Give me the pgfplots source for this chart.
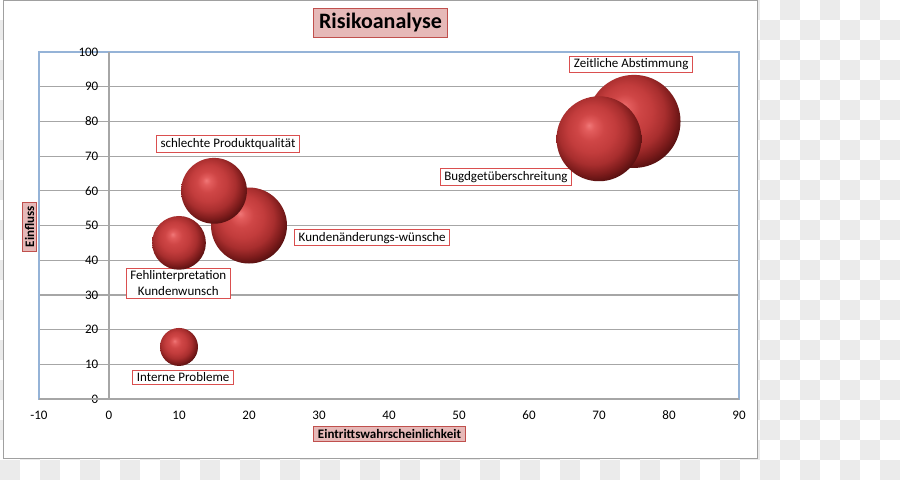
\documentclass[border=0pt]{standalone}
\usepackage{fontspec}
\setmainfont{Carlito}
\usepackage{pgfplots}
\pgfplotsset{compat=1.18}
\usepackage{pgfplotstable}
\definecolor{gridgray}{HTML}{A6A6A6}
\definecolor{plotblue}{HTML}{95B3D7}
\definecolor{titlefill}{HTML}{E6B9B8}
\definecolor{titledraw}{HTML}{C0504D}
\definecolor{labeldraw}{HTML}{DA4F4F}
\definecolor{checker}{HTML}{EBEBEB}
\definecolor{framegray}{HTML}{A0A0A0}
\definecolor{bhl}{HTML}{F07878}
\definecolor{ba}{HTML}{E25C5C}
\definecolor{bb}{HTML}{CF4646}
\definecolor{bc}{HTML}{C23C3C}
\definecolor{bd}{HTML}{A82E2E}
\definecolor{be}{HTML}{7E1C1C}
\definecolor{bf}{HTML}{561010}
\definecolor{bg}{HTML}{420A0A}
\pgfdeclareradialshading{redballshade}{\pgfpoint{-6bp}{8bp}}{%
  color(0bp)=(bhl); color(3bp)=(ba); color(8bp)=(bb); color(14bp)=(bc);
  color(20bp)=(bd); color(25bp)=(be); color(29bp)=(bf); color(34bp)=(bg); color(50bp)=(bg)}
\pgfdeclareplotmark{redball}{%
  \pgfpathcircle{\pgfpointorigin}{\pgfplotmarksize}%
  \pgfshadepath{redballshade}{0}%
  \pgfusepath{discard}%
}
\newcommand\lab{\fontsize{9.75}{11.5}\selectfont}
\tikzset{label box/.style={draw=labeldraw, fill=white, line width=0.75pt,
    inner xsep=3pt, inner ysep=2pt, font=\lab}}
\pgfplotstableread{
x  y  s
75 80 6
70 75 5
20 50 4
15 60 3
10 45 2
10 15 1
}\bubbles
\begin{document}
\begin{tikzpicture}[x=0.75pt,y=-0.75pt]
\useasboundingbox (0,0) rectangle (900,480);
% transparent-background checker
\foreach \i in {0,...,44}{
  \foreach \j in {0,...,23}{
    \pgfmathtruncatemacro{\odd}{mod(\i+\j,2)}
    \ifnum\odd=1
      \fill[checker] (\i*20,\j*20) rectangle ++(20,20);
    \fi
  }
}
\filldraw[fill=white, draw=framegray, line width=0.75pt] (3.5,0.5) rectangle (757,458);
\begin{axis}[
  at={(29.25pt,-299.25pt)}, anchor=south west,
  scale only axis, width=525pt, height=260.25pt,
  xmin=-10, xmax=90, ymin=0, ymax=100,
  xtick={-10,0,...,90}, ytick={0,10,...,100},
  major tick length=0pt,
  ymajorgrids, grid style={gridgray, line width=0.9pt},
  axis line style={plotblue, line width=0.9pt},
  tick label style={font=\lab},
  /pgf/number format/assume math mode=true,
  yticklabel style={xshift=48pt},
  xticklabel style={yshift=-5.5pt},
  clip=false,
]
\draw[gridgray, line width=0.9pt] (axis cs:0,0) -- (axis cs:0,100);
\draw[gridgray, line width=0.9pt] (axis cs:-10,0) -- (axis cs:90,0);
\addplot[scatter, only marks, mark=redball,
  visualization depends on={14.25*sqrt(\thisrow{s}) \as \perpointmarksize},
  scatter/@pre marker code/.append style={/tikz/mark size=\perpointmarksize}]
  table[x=x, y=y] {\bubbles};
\node[label box] at (axis cs:74.6,96.4) {Zeitliche Abstimmung};
\node[label box] at (axis cs:56.7,64.0) {Bugdgetüberschreitung};
\node[label box] at (axis cs:17,73.5) {schlechte Produktqualität};
\node[label box] at (axis cs:37.6,46.5) {Kundenänderungs-wünsche};
\node[label box, align=center] at (axis cs:9.9,33.4) {Fehlinterpretation\\Kundenwunsch};
\node[label box] at (axis cs:10.6,6.2) {Interne Probleme};
\end{axis}
\node[fill=titlefill, draw=titledraw, line width=0.9pt, inner xsep=4pt, inner ysep=4pt,
  font=\fontsize{16.5}{19}\selectfont\bfseries] at (380.5,23) {Risikoanalyse};
\node[fill=titlefill, draw=titledraw, line width=0.75pt, inner xsep=3pt, inner ysep=2pt,
  font=\lab\bfseries, rotate=90] at (29.5,226.5) {Einfluss};
\node[fill=titlefill, draw=titledraw, line width=0.75pt, inner xsep=3pt, inner ysep=2pt,
  font=\lab\bfseries] at (389.5,434) {Eintrittswahrscheinlichkeit};
\end{tikzpicture}
\end{document}
